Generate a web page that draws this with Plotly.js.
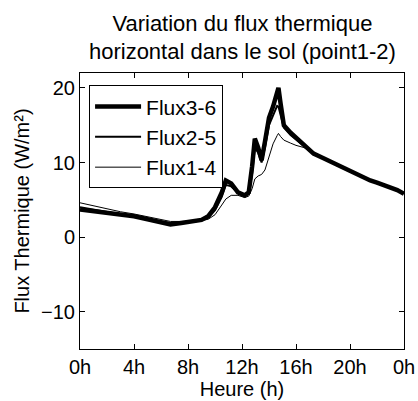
<!DOCTYPE html>
<html>
<head>
<meta charset="utf-8">
<script src="https://cdn.plot.ly/plotly-3.0.1.min.js"></script>
<style>
html,body{margin:0;padding:0;background:#fff;}
#chart{width:418px;height:401px;}
</style>
</head>
<body>
<div id="chart"></div>
<script>
const hours = [0, 1, 2, 3, 4, 5, 6, 6.7, 7.5, 8.5, 9.0, 9.5, 10.0, 10.5, 10.8, 11.2, 11.7, 12.2, 12.5, 12.75, 12.95, 13.2, 13.45, 13.7, 14.0, 14.3, 14.6, 14.7, 14.85, 15.1, 15.6, 16.0, 16.6, 17.3, 18.0, 18.8, 19.5, 20.0, 20.6, 21.0, 21.5, 22.0, 22.5, 23.0, 23.5, 24];

const flux36 = [3.7, 3.5, 3.3, 3.0, 2.8, 2.4, 2.0, 1.7, 1.9, 2.1, 2.3, 2.8, 4.0, 6.0, 7.6, 7.2, 6.0, 5.6, 6.0, 9.5, 13.2, 12.0, 10.3, 12.8, 16.0, 17.5, 19.5, 20.0, 18.0, 15.0, 14.0, 13.3, 12.4, 11.2, 10.6, 9.9, 9.3, 8.8, 8.4, 8.0, 7.6, 7.3, 7.0, 6.7, 6.3, 5.8];
const flux25 = [4.0, 3.7, 3.4, 3.1, 2.8, 2.5, 2.1, 1.9, 2.0, 2.1, 2.3, 2.6, 3.6, 5.4, 7.0, 6.8, 6.0, 5.6, 5.8, 8.5, 12.0, 11.3, 10.0, 12.0, 15.0, 16.3, 17.6, 17.5, 16.5, 14.7, 13.7, 13.1, 12.3, 11.2, 10.6, 9.9, 9.3, 8.8, 8.4, 8.0, 7.6, 7.2, 7.0, 6.6, 6.3, 5.9];
const flux14 = [4.6, 4.2, 3.8, 3.4, 3.1, 2.7, 2.3, 2.1, 2.1, 2.2, 2.2, 2.4, 3.0, 4.3, 5.1, 5.6, 5.6, 5.3, 5.5, 6.5, 7.8, 8.2, 8.4, 9.0, 10.8, 12.5, 13.6, 13.9, 13.5, 13.0, 12.6, 12.3, 12.0, 11.1, 10.6, 9.9, 9.3, 8.8, 8.4, 8.0, 7.6, 7.3, 7.0, 6.7, 6.3, 5.9];

const seriesNames = ['Flux3-6', 'Flux2-5', 'Flux1-4'];
const xTickVals = [0, 4, 8, 12, 16, 20, 24];
const xTickText = ['0h', '4h', '8h', '12h', '16h', '20h', '0h'];
const yTickVals = [-10, 0, 10, 20];

const widths = [4.5, 2, 1];
const data = [flux36, flux25, flux14].map((ys, i) => ({
  type: 'scatter', mode: 'lines', x: hours, y: ys, name: seriesNames[i],
  line: {color: '#000', width: widths[i]}
}));

const font = {family: 'Liberation Sans, Arial, sans-serif', size: 20, color: '#000'};
const layout = {
  width: 418, height: 401,
  margin: {l: 80, r: 14, t: 73, b: 52, pad: 0},
  paper_bgcolor: '#fff', plot_bgcolor: '#fff',
  font: font,
  showlegend: true,
  title: {text: 'Variation du flux thermique<br>horizontal dans le sol (point1-2)', font: {family: font.family, size: 22, color: '#000'}, x: 0.58, xanchor: 'center', y: 0.923, yanchor: 'middle'},
  xaxis: {
    range: [0, 24], tickvals: xTickVals, ticktext: xTickText,
    ticks: 'inside', ticklen: 5, tickcolor: '#000', mirror: 'ticks',
    showline: true, linecolor: '#000', linewidth: 1, showgrid: false, zeroline: false,
    tickfont: font,
    title: {text: 'Heure (h)', font: font, standoff: 2}
  },
  yaxis: {
    range: [-15, 22], tickvals: yTickVals,
    ticks: 'inside', ticklen: 5, tickcolor: '#000', mirror: 'ticks',
    showline: true, linecolor: '#000', linewidth: 1, showgrid: false, zeroline: false,
    tickfont: font,
    title: {text: 'Flux Thermique (W/m²)', font: font, standoff: 6}
  },
  legend: {
    x: 0.028, y: 0.955, xanchor: 'left', yanchor: 'top',
    bgcolor: '#fff', bordercolor: '#000', borderwidth: 1,
    font: {family: font.family, size: 21, color: '#000'}, tracegroupgap: 0,
    itemwidth: 46
  }
};
Plotly.newPlot('chart', data, layout, {staticPlot: true, displayModeBar: false});
</script>
</body>
</html>
